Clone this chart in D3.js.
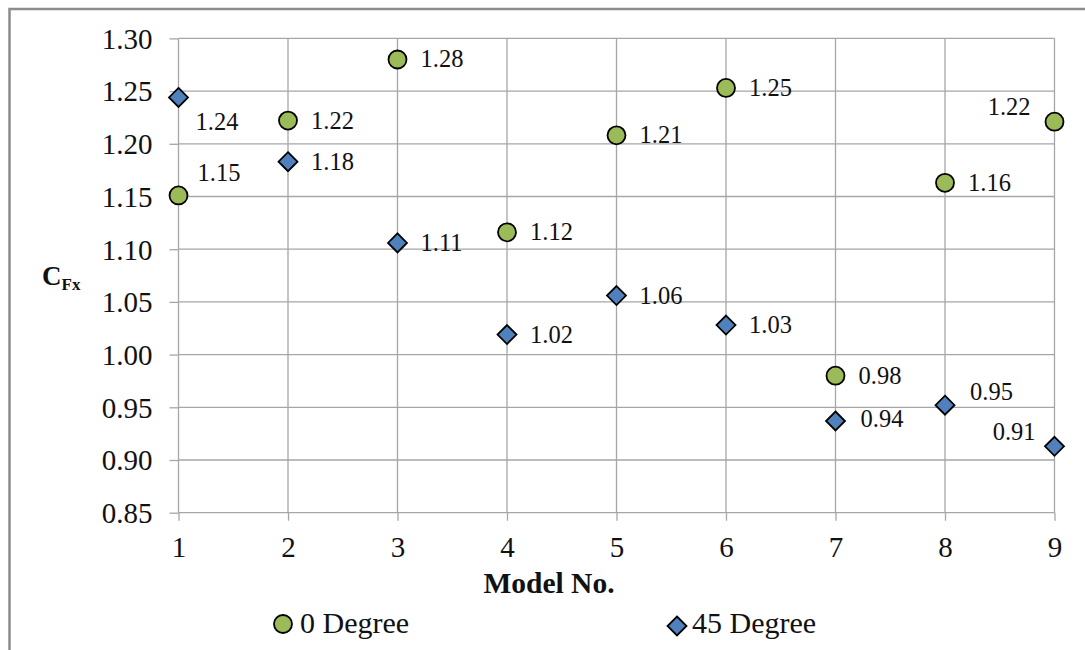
<!DOCTYPE html>
<html>
<head>
<meta charset="utf-8">
<script src="https://cdn.jsdelivr.net/npm/d3@7"></script>
<style>
  html, body { margin: 0; padding: 0; background: #fff; }
  svg { display: block; }
  svg text { font-family: "Liberation Serif", "Times New Roman", serif; }
</style>
</head>
<body>
<svg id="chart" width="1085" height="650"></svg>
<script>
// Model numbers along the x axis
const models = [1, 2, 3, 4, 5, 6, 7, 8, 9];
// Force coefficient C_Fx at 0° wind incidence
const deg0 = [1.151, 1.222, 1.280, 1.116, 1.208, 1.253, 0.980, 1.163, 1.221];
// Force coefficient C_Fx at 45° wind incidence
const deg45 = [1.244, 1.183, 1.106, 1.019, 1.056, 1.028, 0.937, 0.952, 0.913];
// Axis tick labels
const yTickLabels = ["0.85", "0.90", "0.95", "1.00", "1.05", "1.10", "1.15", "1.20", "1.25", "1.30"];
const xTickLabels = ["1", "2", "3", "4", "5", "6", "7", "8", "9"];
const seriesNames = ["0 Degree", "45 Degree"];

const SERIF = "Liberation Serif, Times New Roman, serif";
const svg = d3.select("#chart").attr("font-family", SERIF);
const GRID = "#a6a6a6";

// Plot frame
const plotL = 178.5, plotR = 1054.5, plotT = 38.4, plotB = 512.7;
const x = d3.scaleLinear().domain([1, 9]).range([plotL, plotR]);
const y = d3.scaleLinear().domain([0.85, 1.30]).range([plotB, plotT]);

// Chart border (only the top and left edges fall inside the page)
svg.append("rect")
  .attr("x", 9.5).attr("y", 9)
  .attr("width", 1200).attr("height", 800)
  .attr("fill", "none").attr("stroke", "#8c8c8c").attr("stroke-width", 2.5);

// Gridlines
const yVals = yTickLabels.map(Number);
svg.append("g").selectAll("line").data(yVals).join("line")
  .attr("x1", plotL).attr("x2", plotR)
  .attr("y1", d => y(d)).attr("y2", d => y(d))
  .attr("stroke", GRID).attr("stroke-width", 1.3);
svg.append("g").selectAll("line").data(models).join("line")
  .attr("x1", d => x(d)).attr("x2", d => x(d))
  .attr("y1", plotT).attr("y2", plotB)
  .attr("stroke", GRID).attr("stroke-width", 1.3);

// Y axis
const yAxis = svg.append("g")
  .attr("transform", `translate(${plotL},0)`)
  .call(d3.axisLeft(y).tickValues(yVals).tickFormat((d, i) => yTickLabels[i])
    .tickSize(9).tickPadding(17));
// X axis
const xAxis = svg.append("g")
  .attr("transform", `translate(0,${plotB})`)
  .call(d3.axisBottom(x).tickValues(models).tickFormat((d, i) => xTickLabels[i])
    .tickSize(8).tickPadding(15));
[yAxis, xAxis].forEach(a => {
  a.attr("font-family", SERIF);
  a.select(".domain").remove();
  a.selectAll(".tick line").attr("stroke", GRID).attr("stroke-width", 1.3);
  a.selectAll(".tick text")
    .attr("fill", "#111").attr("font-size", 29)
    .attr("font-family", SERIF);
});
yAxis.selectAll(".tick text").attr("dy", "0.34em");
xAxis.selectAll(".tick text").attr("dy", "0.72em");

// Axis titles
svg.append("text")
  .attr("x", 549).attr("y", 593)
  .attr("text-anchor", "middle").attr("font-family", SERIF)
  .attr("font-size", 29.5).attr("font-weight", "bold").attr("fill", "#111")
  .text("Model No.");
const yTitle = svg.append("text")
  .attr("x", 42).attr("y", 285).attr("font-family", SERIF)
  .attr("font-weight", "bold").attr("fill", "#111");
yTitle.append("tspan").attr("font-size", 27).text("C");
yTitle.append("tspan").attr("font-size", 17).attr("dy", 5).text("Fx");

// Marker shapes
const GREEN = "#9bbb59", BLUE = "#4f81bd";
const diamond = (cx, cy, r) => `M${cx},${cy - r}L${cx + r},${cy}L${cx},${cy + r}L${cx - r},${cy}Z`;

// Data-label placement: [dx, dy, anchor]
const defaultPlace = [23, 8, "start"];
const place0 = { 0: [19, -14, "start"], 8: [-24, -7, "end"] };
const place45 = { 0: [17, 33, "start"], 6: [25, 6, "start"], 7: [25, -5, "start"], 8: [-19, -6, "end"] };

const fmt = d3.format(".2f");
const pts0 = models.map((m, i) => ({ m, v: deg0[i], p: place0[i] || defaultPlace }));
const pts45 = models.map((m, i) => ({ m, v: deg45[i], p: place45[i] || defaultPlace }));

// 45 degree series (diamonds)
svg.append("g").selectAll("path").data(pts45).join("path")
  .attr("d", d => diamond(x(d.m), y(d.v), 9.5))
  .attr("fill", BLUE).attr("stroke", "#000").attr("stroke-width", 1.8);
// 0 degree series (circles)
svg.append("g").selectAll("circle").data(pts0).join("circle")
  .attr("cx", d => x(d.m)).attr("cy", d => y(d.v)).attr("r", 9)
  .attr("fill", GREEN).attr("stroke", "#000").attr("stroke-width", 1.8);

// Data labels
svg.append("g").selectAll("text").data(pts0.concat(pts45)).join("text")
  .attr("x", d => x(d.m) + d.p[0]).attr("y", d => y(d.v) + d.p[1])
  .attr("text-anchor", d => d.p[2]).attr("font-family", SERIF)
  .attr("font-size", 24.5).attr("fill", "#111")
  .text(d => fmt(d.v));

// Legend
const legend = svg.append("g").attr("font-family", SERIF);
legend.append("circle").attr("cx", 283).attr("cy", 624).attr("r", 9)
  .attr("fill", GREEN).attr("stroke", "#000").attr("stroke-width", 1.8);
legend.append("text").attr("x", 300).attr("y", 633)
  .attr("font-size", 30).attr("fill", "#111").text(seriesNames[0]);
legend.append("path").attr("d", diamond(677, 626, 9.5))
  .attr("fill", BLUE).attr("stroke", "#000").attr("stroke-width", 1.8);
legend.append("text").attr("x", 692).attr("y", 633)
  .attr("font-size", 30).attr("fill", "#111").text(seriesNames[1]);
</script>
</body>
</html>
